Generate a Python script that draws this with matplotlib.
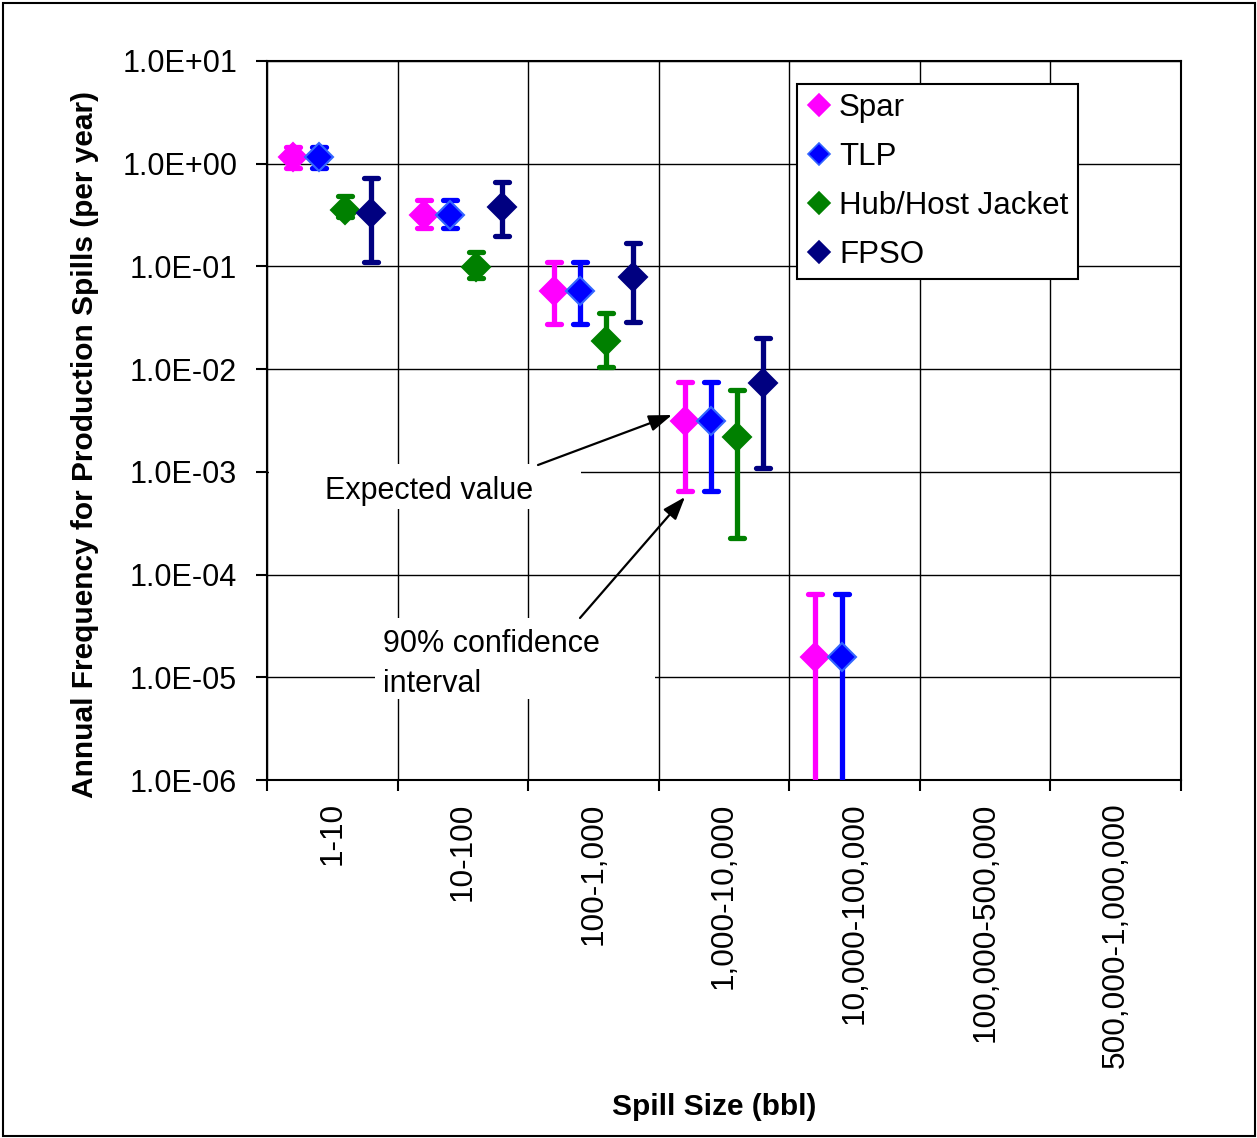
import numpy as np
import matplotlib
matplotlib.use("Agg")
import matplotlib.pyplot as plt
from matplotlib.lines import Line2D
from matplotlib.markers import MarkerStyle
from matplotlib.patches import Rectangle
from matplotlib.ticker import FixedLocator, FuncFormatter, NullLocator

plt.rcParams['font.family'] = ['Liberation Sans', 'DejaVu Sans']

# Spill size classes (bbl)
spill_sizes = ["1-10", "10-100", "100-1,000", "1,000-10,000",
               "10,000-100,000", "100,000-500,000", "500,000-1,000,000"]

nan = np.nan
# expected annual frequency and 90% confidence bounds per facility type
spar_mean = [1.15, 0.317, 0.0573, 0.00316, 1.58e-5, nan, nan]
spar_low = [0.90, 0.235, 0.0276, 0.000645, 1e-7, nan, nan]
spar_high = [1.45, 0.443, 0.111, 0.00757, 6.5e-5, nan, nan]

tlp_mean = [1.15, 0.317, 0.0573, 0.00316, 1.58e-5, nan, nan]
tlp_low = [0.90, 0.235, 0.0276, 0.000645, 1e-7, nan, nan]
tlp_high = [1.45, 0.443, 0.111, 0.00757, 6.5e-5, nan, nan]

hub_mean = [0.357, 0.098, 0.0187, 0.00218, nan, nan, nan]
hub_low = [0.30, 0.077, 0.0104, 0.000229, nan, nan, nan]
hub_high = [0.48, 0.139, 0.035, 0.0063, nan, nan, nan]

fpso_mean = [0.331, 0.376, 0.0783, 0.0073, nan, nan, nan]
fpso_low = [0.111, 0.198, 0.029, 0.0011, nan, nan, nan]
fpso_high = [0.726, 0.668, 0.168, 0.0203, nan, nan, nan]

series = [
    ("Spar", spar_mean, spar_low, spar_high, "#FF00FF", "#FF00FF", 0.2),
    ("TLP", tlp_mean, tlp_low, tlp_high, "#0000FF", "#3366FF", 0.4),
    ("Hub/Host Jacket", hub_mean, hub_low, hub_high, "#008000", "#008000", 0.6),
    ("FPSO", fpso_mean, fpso_low, fpso_high, "#000080", "#000080", 0.8),
]

W, H = 1257, 1138
fig = plt.figure(figsize=(W / 100, H / 100), dpi=100)
ax = fig.add_axes([267 / W, 1 - 780 / H, (1181 - 267) / W, (780 - 61) / H])


def fpos(x, y):
    # pixel position (from top-left) -> figure fraction
    return (x / W, 1 - y / H)


cap_marker = MarkerStyle("_", capstyle="round")
handles = []
for name, mean, low, high, color, edge, offset in series:
    mean = np.array(mean)
    ok = ~np.isnan(mean)
    x = np.arange(len(spill_sizes))[ok] + offset
    m = mean[ok]
    err = np.vstack([m - np.array(low)[ok], np.array(high)[ok] - m])
    _, caps, _ = ax.errorbar(x, m, yerr=err, fmt="none", ecolor=color,
                             elinewidth=3.8, capsize=5, capthick=3.8, zorder=3)
    for c in caps:
        c.set_marker(cap_marker)
    ax.plot(x, m, linestyle="none", marker="D", markersize=14,
            markerfacecolor=color, markeredgecolor=edge, markeredgewidth=1.5,
            zorder=4)
    handles.append(Line2D([], [], linestyle="none", marker="D", markersize=11,
                          markerfacecolor=color, markeredgecolor=edge,
                          markeredgewidth=1.2, label=name))

ax.set_yscale("log")
ax.set_ylim(1e-6, 10)
ax.set_xlim(0, len(spill_sizes))
ax.yaxis.set_major_locator(FixedLocator([10.0 ** k for k in range(-6, 2)]))
ax.yaxis.set_minor_locator(NullLocator())
ax.yaxis.set_major_formatter(FuncFormatter(lambda v, p: f"{v:.1E}"))

ax.set_xticks(np.arange(len(spill_sizes) + 1))
ax.set_xticklabels([])
ax.set_xticks(np.arange(len(spill_sizes)) + 0.5, spill_sizes, minor=True,
              rotation=90, va="top", ha="center")
ax.tick_params(axis="x", which="minor", length=0, pad=16, labelsize=22.8)
ax.tick_params(axis="x", which="major", length=8, width=1.5, direction="out")
ax.tick_params(axis="y", which="major", length=8, width=1.5, direction="out",
               pad=13.5, labelsize=22)

ax.set_axisbelow(True)
ax.grid(True, which="major", color="black", linewidth=1.0)
for s in ax.spines.values():
    s.set_linewidth(1.5)

leg = ax.legend(handles=handles, loc="upper left", bbox_to_anchor=(0.580, 0.968),
                borderaxespad=0, fontsize=22.5, frameon=True, fancybox=False,
                edgecolor="black", framealpha=1, borderpad=0.3,
                handlelength=0.8, handletextpad=0.24, labelspacing=0.6)
leg.get_frame().set_linewidth(1.5)

# overlay for the callouts; white boxes hide the gridlines behind the text
callout_ax = fig.add_axes([0, 0, 1, 1], facecolor="none", zorder=5)
callout_ax.set_axis_off()
callout_ax.set_xlim(0, W)
callout_ax.set_ylim(H, 0)
for (x0, y0, x1, y1) in [(269, 464, 581, 509), (375, 618, 655, 699)]:
    callout_ax.add_patch(Rectangle((x0, y0), x1 - x0, y1 - y0,
                                   facecolor="white", edgecolor="none"))
callout_ax.text(325, 499, "Expected value", fontsize=22, va="baseline")
callout_ax.text(383, 652, "90% confidence", fontsize=22, va="baseline")
callout_ax.text(383, 692, "interval", fontsize=22, va="baseline")
arrow = dict(arrowstyle="-|>,head_length=1.4,head_width=0.5",
             color="black", lw=1.6, shrinkA=0, shrinkB=0)
callout_ax.annotate("", xy=(672, 415), xytext=(538, 465), arrowprops=arrow)
callout_ax.annotate("", xy=(685, 497), xytext=(580, 618), arrowprops=arrow)

fig.text(*fpos(85, 445), "Annual Frequency for Production Spills (per year)",
         rotation=90, fontsize=21.5, fontweight="bold", ha="center", va="center")
fig.text(*fpos(714, 1107), "Spill Size (bbl)", fontsize=21.5,
         fontweight="bold", ha="center", va="center")

# outer border
fig.patches.append(Rectangle(fpos(3, 1136), (1255 - 3) / W, (1136 - 3) / H,
                             transform=fig.transFigure, facecolor="none",
                             edgecolor="black", linewidth=1.5))

fig.savefig("out.png", dpi=100, facecolor="white")
